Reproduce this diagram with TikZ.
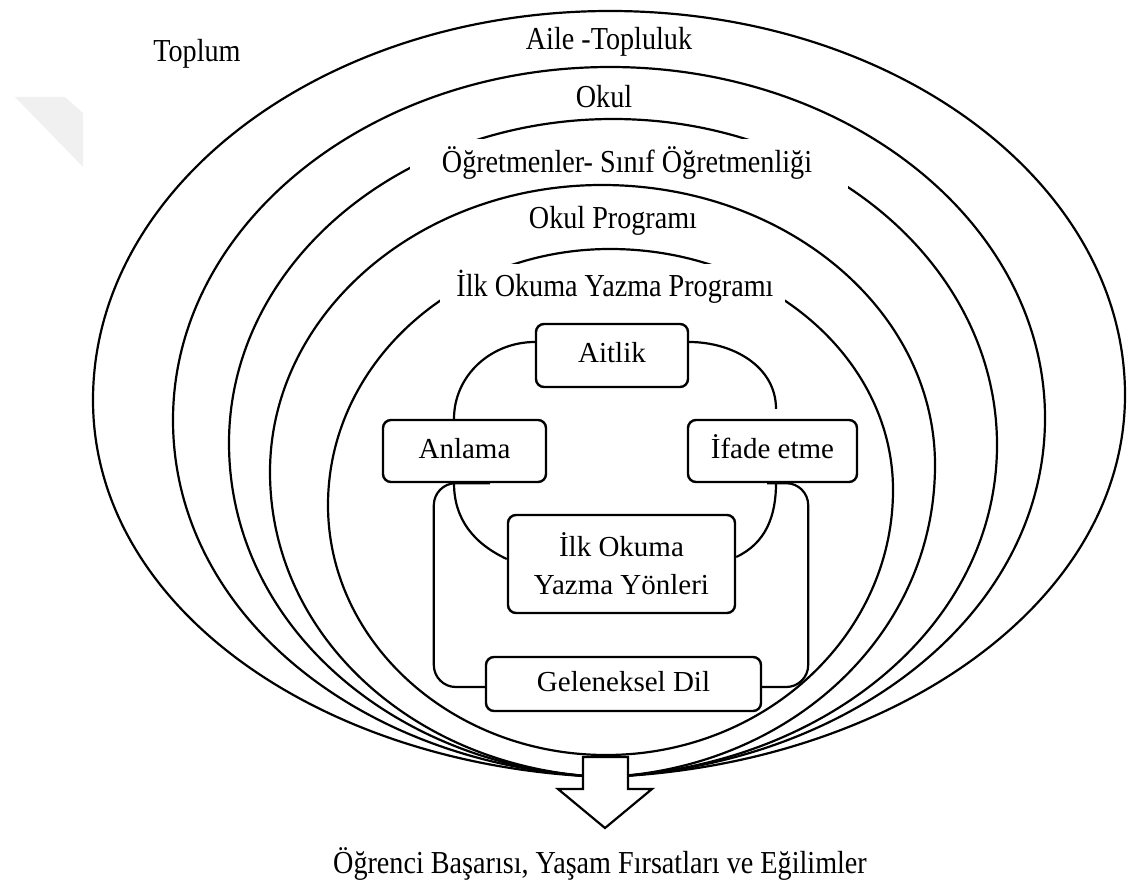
\documentclass[tikz,border=0pt]{standalone}
\usepackage{fontspec}
\setmainfont{Liberation Serif}
\newfontfamily\condserif[FakeStretch=0.88]{Liberation Serif}
\usetikzlibrary{calc}
\tikzset{
  ring/.style={line width=1.1pt},
  cover/.style={fill=white},
  box/.style={draw, line width=1.2pt, rounded corners=4pt, inner sep=0pt, align=center},
  onebox/.style={box, text height=10pt, text depth=3pt},
  link/.style={line width=1.1pt},
  lbl/.style={inner sep=0pt, anchor=base, font=\condserif\fontsize{16}{19}\selectfont},
  flow/.style={draw, line width=1.1pt, fill=white, line join=miter}
}
\begin{document}
\begin{tikzpicture}[x=0.5pt, y=-0.5pt, font=\fontsize{14.5}{19}\selectfont]
\useasboundingbox (0,0) rectangle (1128,882);
% faint watermark patch
\fill[gray!12] (15,97) -- (65,97) -- (83,113) -- (83,167) -- cycle;

% ring 1
\draw[ring] (610,11) .. controls (325,11) and (93,185) .. (93,400)
  .. controls (93,608) and (322,767) .. (604,777)
  .. controls (886,767) and (1125,606) .. (1125,395)
  .. controls (1125,183) and (895,11) .. cycle;
% ring 2
\draw[ring] (610,67) .. controls (369,67) and (173,225) .. (173,420)
  .. controls (173,617) and (366,767) .. (604,777)
  .. controls (847,767) and (1045,616) .. (1045,418)
  .. controls (1045,224) and (850,67) .. cycle;
% ring 3
\draw[ring] (613,119) .. controls (401,119) and (229,264) .. (229,443)
  .. controls (229,627) and (397,769) .. (604,777)
  .. controls (821,769) and (997,628) .. (997,445)
  .. controls (997,265) and (825,119) .. cycle;
\fill[cover] (410,139) rectangle (848,197);
% ring 4
\draw[ring] (602,185) .. controls (419,185) and (270,314) .. (270,472)
  .. controls (270,640) and (420,770) .. (604,777)
  .. controls (787,770) and (935,637) .. (935,465)
  .. controls (935,310) and (786,185) .. cycle;
% ring 5
\draw[ring] (610,249) .. controls (454,249) and (328,364) .. (328,505)
  .. controls (328,643) and (453,755) .. (606,755)
  .. controls (764,755) and (893,636) .. (893,490)
  .. controls (893,357) and (766,249) .. cycle;
\fill[cover] (440,264) rectangle (785,312);

% ring labels
\node[lbl] (toplum) at (197,62) {Toplum};
\node[lbl] (aile) at (609,50) {Aile -Topluluk};
\node[lbl] (okul) at (604,108) {Okul};
\node[lbl] (ogr) at (627,173) {Öğretmenler- Sınıf Öğretmenliği};
\node[lbl] (okprog) at (613,228) {Okul Programı};
\node[lbl] (ilkprog) at (615,296) {İlk Okuma Yazma Programı};

% inner boxes
\node[onebox, minimum width=76pt, minimum height=31.5pt] (aitlik) at (612,355.5) {Aitlik};
\node[onebox, minimum width=81.5pt, minimum height=31pt] (anlama) at (464.5,451) {Anlama};
\node[onebox, minimum width=84.5pt, minimum height=31pt] (ifade) at (772.5,451) {İfade etme};
\node[box, minimum width=113.5pt, minimum height=49pt] (yon) at (621.5,564) {İlk Okuma\\Yazma Yönleri};
\node[onebox, minimum width=137.5pt, minimum height=27pt] (dil) at (623.5,684) {Geleneksel Dil};

% arcs
\draw[link] ($(aitlik.west)+(0,-13.5)$) to[out=180,in=90] ($(anlama.north)+(-10.5,0)$);
\draw[link] ($(aitlik.east)+(0,-13.5)$) to[out=0,in=90] ($(ifade.north)+(3.5,-10)$);
\draw[link] ($(anlama.south)+(-10.5,0)$) to[out=-90,in=155] ($(yon.west)+(0,-5)$);
\draw[link] ($(ifade.south)+(3.5,0)$) to[out=-90,in=25] ($(yon.east)+(0,-7)$);
% brackets
\draw[link, rounded corners=11pt] ($(anlama.south)+(25.5,0)$) -| ($(dil.west)+(-51,3)$) -- ($(dil.west)+(0,3)$);
\draw[link, rounded corners=11pt] ($(ifade.south)+(-5.5,0)$) -| ($(dil.east)+(46,3)$) -- ($(dil.east)+(0,3)$);

% outcome arrow
\draw[flow] (583,757) -- (628,757) -- (628,789) -- (652,789) -- (605,828) -- (558,789) -- (583,789) -- cycle;
\node[lbl] (result) at (600,873) {Öğrenci Başarısı, Yaşam Fırsatları ve Eğilimler};
\end{tikzpicture}
\end{document}
